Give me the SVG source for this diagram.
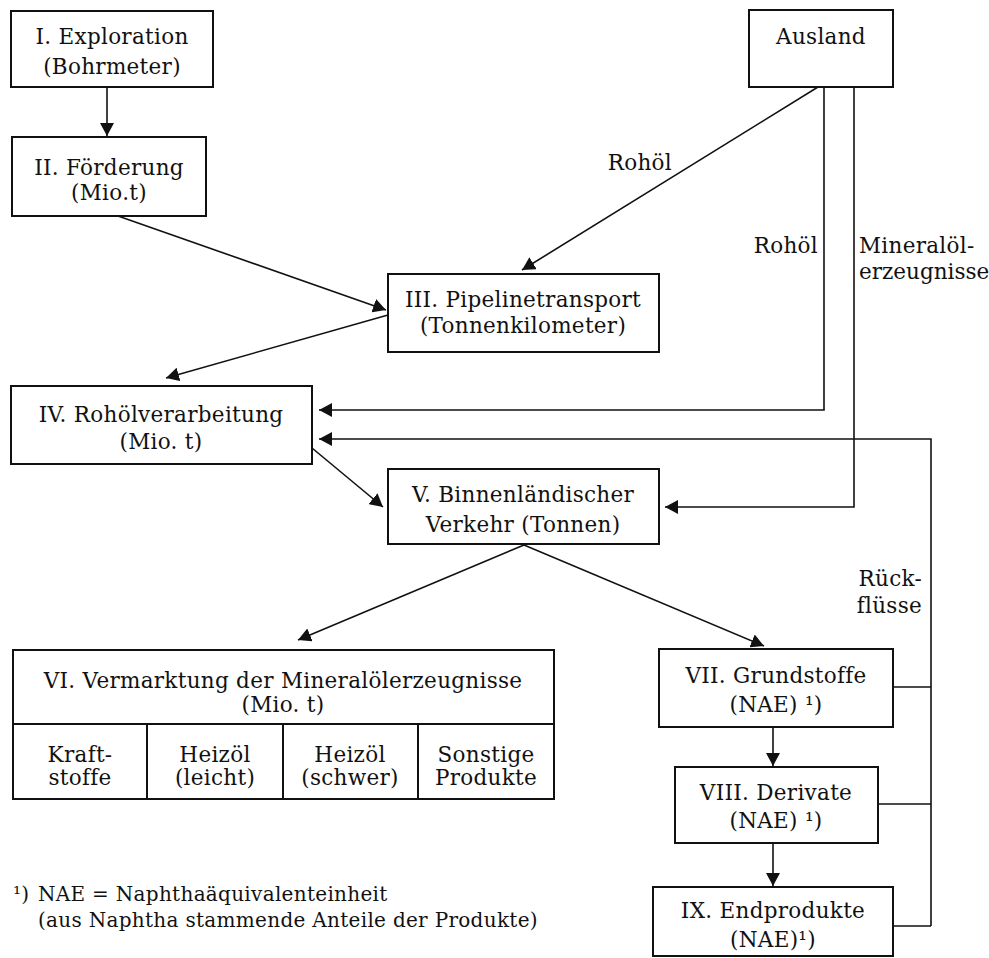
<svg xmlns="http://www.w3.org/2000/svg" width="989" height="958" viewBox="0 0 989 958">
<style>
.box{fill:#fff;stroke:#111;stroke-width:2}
.ln{fill:none;stroke:#111;stroke-width:1.6}
.ar{marker-end:url(#ah)}
text{font-family:"DejaVu Serif","Liberation Serif",serif;font-size:21.5px;letter-spacing:0.3px;fill:#111}
.c{text-anchor:middle}
.r{text-anchor:end}
.fn{font-size:20px}
</style>
<defs>
<marker id="ah" markerUnits="userSpaceOnUse" markerWidth="14" markerHeight="14" refX="13" refY="7" orient="auto">
<path d="M0,0 L13,7 L0,14 z" fill="#111"/>
</marker>
</defs>
<rect width="989" height="958" fill="#fff"/>
<g id="connectors">
<line class="ln ar" x1="107" y1="87" x2="107" y2="136"/>
<line class="ln ar" x1="118" y1="216" x2="386" y2="310"/>
<line class="ln ar" x1="818" y1="87" x2="522" y2="270"/>
<line class="ln ar" x1="388" y1="315" x2="166" y2="378"/>
<path class="ln ar" d="M824,87 V410 H319"/>
<path class="ln ar" d="M854,87 V507 H665"/>
<path class="ln ar" d="M931,926 V439 H319"/>
<path class="ln" d="M893,687 H931 M878,804 H931 M893,926 H931"/>
<line class="ln ar" x1="312" y1="448" x2="383" y2="507"/>
<line class="ln ar" x1="524" y1="545" x2="298" y2="640"/>
<line class="ln ar" x1="524" y1="545" x2="764" y2="646"/>
<line class="ln ar" x1="773" y1="727" x2="773" y2="766"/>
<line class="ln ar" x1="773" y1="843" x2="773" y2="886"/>
<text x="672" y="170" class="r">Rohöl</text>
<text x="818" y="253" class="r">Rohöl</text>
<text x="859" y="253">Mineralöl-</text>
<text x="859" y="279" style="letter-spacing:0">erzeugnisse</text>
<text x="922" y="586" class="r">Rück-</text>
<text x="922" y="613" class="r">flüsse</text>
</g>
<g id="n1">
<rect class="box" x="11" y="11" width="202" height="76"/>
<text x="112" y="44" class="c">I. Exploration</text>
<text x="112" y="74" class="c">(Bohrmeter)</text>
</g>
<g id="n2">
<rect class="box" x="12" y="137" width="194" height="79"/>
<text x="109" y="175" class="c">II. Förderung</text>
<text x="109" y="200" class="c">(Mio.t)</text>
</g>
<g id="ausland">
<rect class="box" x="749" y="10" width="144" height="77"/>
<text x="821" y="44" class="c">Ausland</text>
</g>
<g id="n3">
<rect class="box" x="388" y="274" width="271" height="78"/>
<text x="523" y="307" class="c">III. Pipelinetransport</text>
<text x="523" y="333" class="c">(Tonnenkilometer)</text>
</g>
<g id="n4">
<rect class="box" x="11" y="386" width="301" height="78"/>
<text x="161" y="422" class="c">IV. Rohölverarbeitung</text>
<text x="161" y="449" class="c">(Mio. t)</text>
</g>
<g id="n5">
<rect class="box" x="388" y="469" width="271" height="75"/>
<text x="523" y="502" class="c">V. Binnenländischer</text>
<text x="523" y="532" class="c">Verkehr (Tonnen)</text>
</g>
<g id="n6">
<rect class="box" x="13" y="650" width="541" height="149"/>
<path class="ln" d="M13,724 H554 M147,724 V799 M283,724 V799 M418,724 V799" style="stroke-width:2"/>
<text x="283" y="688" class="c">VI. Vermarktung der Mineralölerzeugnisse</text>
<text x="283" y="712" class="c">(Mio. t)</text>
<text x="80" y="762" class="c">Kraft-</text>
<text x="80" y="785" class="c">stoffe</text>
<text x="215" y="762" class="c">Heizöl</text>
<text x="215" y="785" class="c">(leicht)</text>
<text x="350" y="762" class="c">Heizöl</text>
<text x="350" y="785" class="c">(schwer)</text>
<text x="486" y="762" class="c">Sonstige</text>
<text x="486" y="785" class="c">Produkte</text>
</g>
<g id="n7">
<rect class="box" x="659" y="649" width="234" height="78"/>
<text x="776" y="683" class="c">VII. Grundstoffe</text>
<text x="776" y="712" class="c">(NAE) ¹)</text>
</g>
<g id="n8">
<rect class="box" x="675" y="767" width="203" height="76"/>
<text x="776" y="800" class="c">VIII. Derivate</text>
<text x="776" y="828" class="c">(NAE)  ¹)</text>
</g>
<g id="n9">
<rect class="box" x="653" y="887" width="240" height="69"/>
<text x="773" y="918" class="c">IX. Endprodukte</text>
<text x="773" y="947" class="c">(NAE)¹)</text>
</g>
<g id="footnote">
<text x="13" y="901" class="fn">¹)</text>
<text x="38" y="901" class="fn">NAE = Naphthaäquivalenteinheit</text>
<text x="38" y="927" class="fn">(aus Naphtha stammende Anteile der Produkte)</text>
</g>
</svg>
